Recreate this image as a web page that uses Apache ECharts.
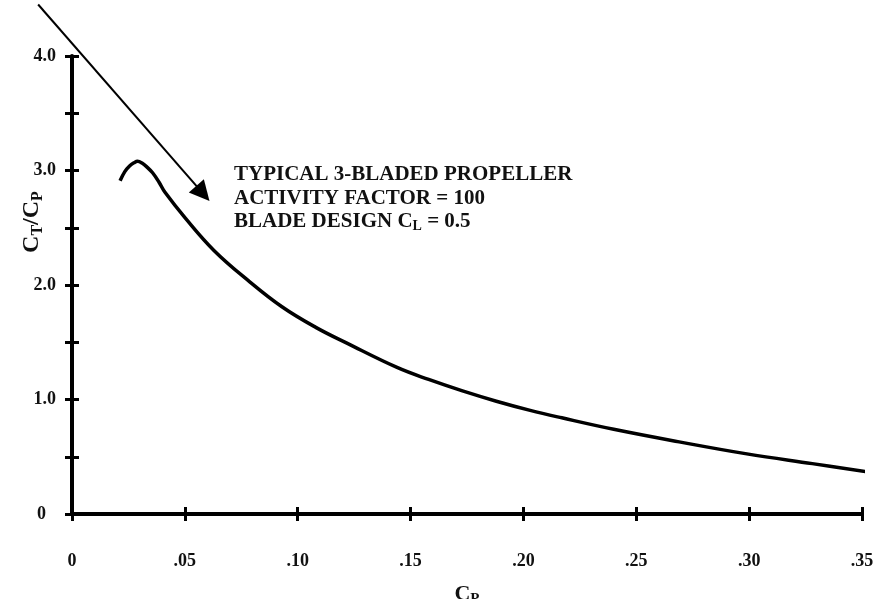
<!DOCTYPE html>
<html><head><meta charset="utf-8">
<script src="https://cdn.jsdelivr.net/npm/echarts@6/dist/echarts.min.js"></script>
<style>html,body{margin:0;padding:0;background:#fff}#c{width:881px;height:599px}</style>
</head><body><div id="c"></div>
<script>
// ---- data ----
const cpValues   = [0.0213,0.0234,0.0255,0.0277,0.0290,0.0310,0.0335,0.0357,0.0385,0.0412,0.0504,0.063,0.078,0.093,0.108,0.122,0.144,0.158,0.173,0.188,0.203,0.217,0.240,0.269,0.299,0.328,0.352];
const ctcpValues = [2.91,  2.99,  3.04,  3.07,  3.08,  3.065, 3.025, 2.98,  2.90,  2.81,  2.58,  2.30, 2.04, 1.81, 1.63, 1.49, 1.28, 1.175,1.075,0.985,0.905,0.84, 0.74, 0.63, 0.525,0.44, 0.37];
const xTickLabels = ['0','.05','.10','.15','.20','.25','.30','.35'];
const yTickLabels = ['0','1.0','2.0','3.0','4.0'];
const noteLines = ['TYPICAL 3-BLADED PROPELLER','ACTIVITY FACTOR = 100','BLADE DESIGN C{sub|L} = 0.5'];
const arrowFrom = [-0.015, 4.45];
const arrowTo   = [0.058, 2.80];

const FONT = "'Liberation Serif','Times New Roman',serif";
const chart = echarts.init(document.getElementById('c'), null, {renderer:'canvas'});
const curve = cpValues.map((x,i)=>[x, ctcpValues[i]]);

const tickBase = {fontFamily:FONT, fontWeight:'bold', fontSize:18, color:'#111'};

const xAxisCommon = {type:'value', min:0, max:0.35, interval:0.05, position:'bottom', splitLine:{show:false}};
const yAxisCommon = {type:'value', min:0, max:4, interval:0.5, position:'left', splitLine:{show:false}};

chart.setOption({
  backgroundColor:'#fff',
  animation:false,
  grid:{left:72, top:56, width:790, height:458, containLabel:false, outerBoundsMode:'none'},
  xAxis:[
    Object.assign({}, xAxisCommon, {
      axisLine:{show:true, lineStyle:{color:'#000', width:4}},
      axisTick:{show:true, inside:false, length:7, lineStyle:{color:'#000', width:3}},
      axisLabel:Object.assign({margin:38, formatter:(v)=>xTickLabels[Math.round(v/0.05)] || ''}, tickBase),
      name:'C{s|P}', nameLocation:'middle', nameGap:68,
      nameTextStyle:{fontFamily:FONT, fontWeight:'bold', fontSize:22, color:'#111',
        rich:{s:{fontFamily:FONT, fontWeight:'bold', fontSize:15, color:'#111', padding:[10,0,0,0]}}}
    }),
    Object.assign({}, xAxisCommon, {
      axisLine:{show:false},
      axisTick:{show:true, inside:true, length:7, lineStyle:{color:'#000', width:3}},
      axisLabel:{show:false}
    })
  ],
  yAxis:[
    Object.assign({}, yAxisCommon, {
      axisLine:{show:true, lineStyle:{color:'#000', width:4}},
      axisTick:{show:true, inside:false, length:7, lineStyle:{color:'#000', width:3}},
      axisLabel:Object.assign({margin:16, formatter:(v)=>{
        if (Math.abs(v-Math.round(v))>1e-6) return '';
        const i = Math.round(v);
        return i===0 ? '{z|'+yTickLabels[0]+'}' : yTickLabels[i];
      }, rich:{z:Object.assign({padding:[0,10,0,0]}, tickBase)}}, tickBase)
    }),
    Object.assign({}, yAxisCommon, {
      axisLine:{show:false},
      axisTick:{show:true, inside:true, length:7, lineStyle:{color:'#000', width:3}},
      axisLabel:{show:false}
    })
  ],
  series:[
    {type:'line', xAxisIndex:0, yAxisIndex:0, data:curve, smooth:0.4, showSymbol:false,
     lineStyle:{color:'#000', width:3.5}, itemStyle:{color:'#000'}, z:3},
    {type:'lines', coordinateSystem:'cartesian2d', xAxisIndex:0, yAxisIndex:0, clip:false,
     symbol:['none','triangle'], symbolSize:20, silent:true,
     lineStyle:{color:'#000', width:2, opacity:1, curveness:0},
     data:[{coords:[arrowFrom, arrowTo]}], z:4}
  ],
  graphic:[
    {type:'text', left:234, top:164, style:{text:noteLines[0], fontFamily:FONT, fontWeight:'bold', fontSize:21, fill:'#111'}},
    {type:'text', left:234, top:188, style:{text:noteLines[1], fontFamily:FONT, fontWeight:'bold', fontSize:21, fill:'#111'}},
    {type:'text', left:234, top:211, style:{text:noteLines[2], fontFamily:FONT, fontWeight:'bold', fontSize:21, fill:'#111',
      rich:{sub:{fontFamily:FONT, fontWeight:'bold', fontSize:14, fill:'#111', padding:[10,0,0,0]}}}},
    {type:'text', x:32, y:222, rotation:Math.PI/2,
      style:{text:'C{s|T}/C{s|P}', fontFamily:FONT, fontWeight:'bold', fontSize:24, fill:'#111', align:'center', verticalAlign:'middle',
      rich:{s:{fontFamily:FONT, fontWeight:'bold', fontSize:16, fill:'#111', padding:[11,0,0,0]}}}}
  ]
});
</script></body></html>
